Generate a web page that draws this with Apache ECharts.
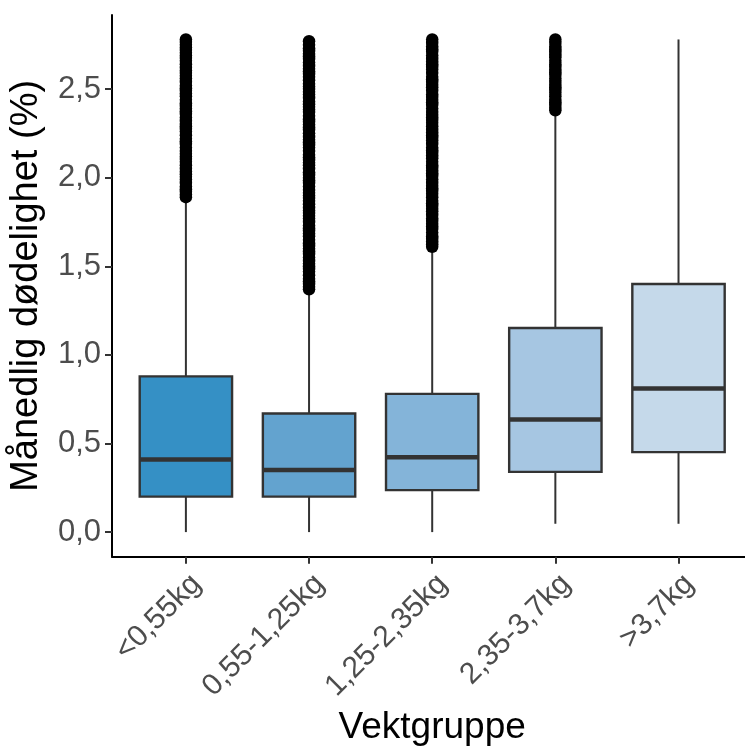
<!DOCTYPE html>
<html><head><meta charset="utf-8">
<script src="https://cdn.jsdelivr.net/npm/echarts@6/dist/echarts.min.js"></script>
<style>html,body{margin:0;padding:0;background:#fff;overflow:hidden}#c{width:754px;height:751px}</style>
</head><body><div id="c"></div>
<script>
const categories = ['<0,55kg', '0,55-1,25kg', '1,25-2,35kg', '2,35-3,7kg', '>3,7kg'];
const whiskerLow = [0, 0, 0, 0.047, 0.047];
const q1 = [0.2, 0.2, 0.237, 0.34, 0.451];
const median = [0.41, 0.35, 0.423, 0.635, 0.81];
const q3 = [0.879, 0.669, 0.78, 1.152, 1.40];
const whiskerHigh = [1.88, 1.35, 1.58, 2.35, 2.78];
const boxColors = ['#3590c5', '#63a3cf', '#84b4d9', '#a6c6e2', '#c5d9ea'];
const yTicks = [0, 0.5, 1, 1.5, 2, 2.5];

const outliers1 = [1.89,1.905,1.92,1.935,1.95,1.97,1.99,2.005,2.02,2.035,2.05,2.07,2.09,2.105,2.12,2.135,2.15,2.17,2.19,2.205,2.22,2.24,2.26,2.275,2.29,2.305,2.32,2.34,2.36,2.375,2.39,2.405,2.42,2.44,2.46,2.475,2.49,2.505,2.52,2.54,2.56,2.575,2.59,2.605,2.62,2.64,2.66,2.675,2.69,2.705,2.72,2.735,2.75,2.765,2.78];
const outliers2 = [1.37,1.385,1.40,1.415,1.43,1.45,1.47,1.485,1.50,1.515,1.53,1.55,1.57,1.585,1.60,1.615,1.63,1.65,1.67,1.685,1.70,1.715,1.73,1.75,1.77,1.785,1.80,1.815,1.83,1.85,1.87,1.885,1.90,1.915,1.93,1.95,1.97,1.985,2.00,2.015,2.03,2.05,2.07,2.085,2.10,2.115,2.13,2.15,2.17,2.185,2.20,2.215,2.23,2.25,2.27,2.285,2.30,2.315,2.33,2.35,2.37,2.385,2.40,2.415,2.43,2.45,2.47,2.485,2.50,2.515,2.53,2.55,2.57,2.585,2.60,2.615,2.63,2.65,2.67,2.685,2.70,2.715,2.73,2.75,2.77];
const outliers3 = [1.61,1.625,1.64,1.655,1.67,1.69,1.71,1.725,1.74,1.755,1.77,1.79,1.81,1.825,1.84,1.855,1.87,1.89,1.91,1.925,1.94,1.955,1.97,1.99,2.01,2.025,2.04,2.055,2.07,2.09,2.11,2.125,2.14,2.155,2.17,2.19,2.21,2.225,2.24,2.255,2.27,2.29,2.31,2.325,2.34,2.355,2.37,2.39,2.41,2.425,2.44,2.455,2.47,2.49,2.51,2.525,2.54,2.555,2.57,2.59,2.61,2.625,2.64,2.655,2.67,2.69,2.71,2.725,2.74,2.76,2.78];
const outliers4 = [2.38,2.395,2.41,2.425,2.44,2.46,2.48,2.495,2.51,2.525,2.54,2.56,2.58,2.595,2.61,2.625,2.64,2.66,2.68,2.695,2.71,2.725,2.74,2.76,2.78];
const outlierGroups = [outliers1, outliers2, outliers3, outliers4, []];

const FONT = '"Liberation Sans", Arial, sans-serif';

const boxData = categories.map((c, i) => [i + 1, whiskerLow[i], q1[i], median[i], q3[i], whiskerHigh[i], i]);
const outlierData = [];
outlierGroups.forEach((g, i) => g.forEach(v => outlierData.push([i + 1, v])));

const chart = echarts.init(document.getElementById('c'), null, {renderer: 'canvas'});
chart.setOption({
  animation: false,
  backgroundColor: '#fff',
  textStyle: {fontFamily: FONT},
  grid: {left: 112, top: 15, width: 640.4, height: 542.7, containLabel: false},
  xAxis: {
    type: 'value', min: 0.4, max: 5.6,
    axisLine: {show: true, onZero: false, lineStyle: {color: '#000', width: 2}},
    axisTick: {show: true, customValues: [1, 2, 3, 4, 5], length: 7, lineStyle: {color: '#333', width: 2}},
    axisLabel: {
      customValues: [1, 2, 3, 4, 5],
      formatter: v => categories[Math.round(v) - 1],
      rotate: 45, fontSize: 30, color: '#4d4d4d', fontFamily: FONT,
      margin: 12, align: 'right', verticalAlign: 'top'
    },
    splitLine: {show: false},
    name: 'Vektgruppe', nameLocation: 'middle', nameGap: 152,
    nameTextStyle: {fontSize: 37, color: '#000', fontFamily: FONT}
  },
  yAxis: {
    type: 'value', min: -0.139, max: 2.918,
    axisLine: {show: true, onZero: false, lineStyle: {color: '#000', width: 2}},
    axisTick: {show: true, customValues: yTicks, length: 7, lineStyle: {color: '#333', width: 2}},
    axisLabel: {
      customValues: yTicks,
      formatter: v => v.toFixed(1).replace('.', ','),
      fontSize: 31, color: '#4d4d4d', fontFamily: FONT, margin: 11
    },
    splitLine: {show: false},
    name: 'Månedlig dødelighet (%)', nameLocation: 'middle', nameGap: 66,
    nameTextStyle: {fontSize: 38, color: '#000', fontFamily: FONT}
  },
  series: [
    {
      type: 'custom',
      data: boxData,
      encode: {x: 0, y: [1, 2, 3, 4, 5]},
      renderItem: function (params, api) {
        const x = api.value(0);
        const pLow = api.coord([x, api.value(1)]);
        const pQ1 = api.coord([x, api.value(2)]);
        const pMed = api.coord([x, api.value(3)]);
        const pQ3 = api.coord([x, api.value(4)]);
        const pHigh = api.coord([x, api.value(5)]);
        const halfW = api.size([0.75, 0])[0] / 2;
        const color = boxColors[api.value(6)];
        return {
          type: 'group',
          children: [
            {type: 'line', shape: {x1: pLow[0], y1: pLow[1], x2: pQ1[0], y2: pQ1[1]}, style: {stroke: '#333', lineWidth: 2}},
            {type: 'line', shape: {x1: pQ3[0], y1: pQ3[1], x2: pHigh[0], y2: pHigh[1]}, style: {stroke: '#333', lineWidth: 2}},
            {type: 'rect', shape: {x: pQ1[0] - halfW, y: pQ3[1], width: 2 * halfW, height: pQ1[1] - pQ3[1]}, style: {fill: color, stroke: '#333', lineWidth: 2.4}},
            {type: 'line', shape: {x1: pMed[0] - halfW, y1: pMed[1], x2: pMed[0] + halfW, y2: pMed[1]}, style: {stroke: '#333', lineWidth: 4.5}}
          ]
        };
      }
    },
    {
      type: 'scatter',
      data: outlierData,
      symbol: 'circle',
      symbolSize: 12.5,
      itemStyle: {color: '#000', opacity: 1, borderWidth: 0},
      z: 3
    }
  ]
});
</script>
</body></html>
